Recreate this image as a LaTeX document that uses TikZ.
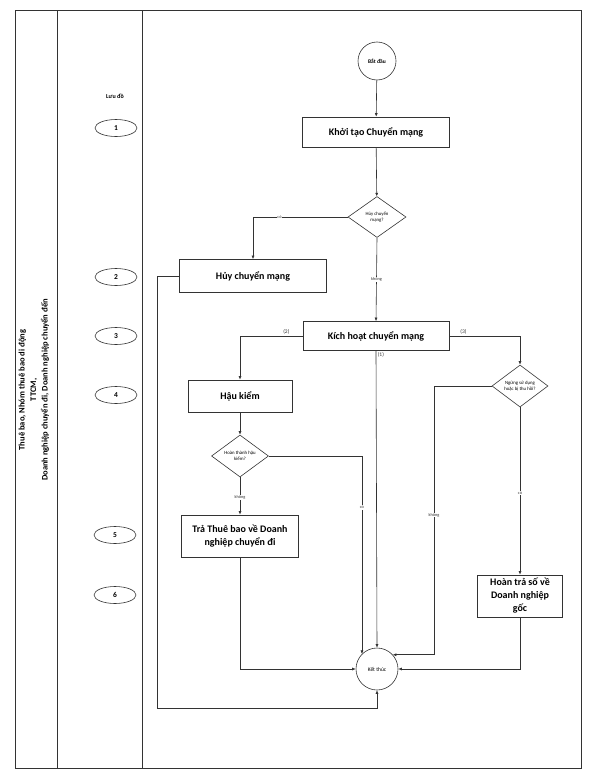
\documentclass[tikz,border=0pt]{standalone}
\usepackage{fontspec}
\setmainfont{Carlito}
\usetikzlibrary{
  arrows.meta,
  positioning,
  shapes.geometric,
  calc
}

\begin{document}
\begin{tikzpicture}[
  x=1pt, y=-1pt,
  line width=0.6pt,
  process/.style={
    rectangle, draw=black!80, line width=0.7pt, inner sep=1pt,
    align=center, font=\fontsize{10}{13}\selectfont\bfseries
  },
  decision/.style={
    diamond, draw=black!80, aspect=1.4, inner sep=0pt,
    minimum width=58pt, minimum height=41pt, align=center,
    font=\fontsize{4.8}{5.8}\selectfont
  },
  terminal/.style={
    circle, draw=black!80, inner sep=0pt, align=center
  },
  marker/.style={
    ellipse, draw=black!80, inner sep=0pt,
    minimum width=42pt, minimum height=17pt,
    font=\fontsize{7.5}{8}\selectfont\bfseries
  },
  flow/.style={-{Latex[length=3.5pt,width=3pt]}, black!80},
  tag/.style={font=\fontsize{4.3}{5}\selectfont, fill=white, inner sep=0.6pt},
  branch/.style={font=\fontsize{5.5}{6}\selectfont, inner sep=1.5pt},
]
\useasboundingbox (0,0) rectangle (589,779);

% Swimlane frame
\draw[black!80] (15,10) rectangle (581,768);
\draw[black!80] (57,10) -- (57,768);
\draw[black!80] (142,10) -- (142,768);

\node[rotate=90, align=center, font=\fontsize{8.5}{11.5}\selectfont\bfseries] (actors) at (34,390)
  {Thuê bao, Nhóm thuê bao di động\\TTCM,\\Doanh nghiệp chuyển đi, Doanh nghiệp chuyển đến};

% Step markers
\node[font=\fontsize{6}{7}\selectfont\bfseries] (chart) at (115,96) {Lưu đồ};
\node[marker] (m1) at (116,128) {1};
\node[marker] (m2) at (116,277) {2};
\node[marker] (m3) at (116,336) {3};
\node[marker] (m4) at (116,395) {4};
\node[marker] (m5) at (115,535) {5};
\node[marker] (m6) at (115,595) {6};

% Flowchart nodes
\node[terminal, minimum size=38pt, font=\fontsize{5.5}{6}\selectfont\bfseries] (start) at (377,61) {Bắt đầu};
\node[process, minimum width=147pt, minimum height=30pt] (init) at (376,132) {Khởi tạo Chuyển mạng};
\node[decision] (qcancel) at (377,217) {Hủy chuyển\\mạng?};
\node[process, minimum width=147pt, minimum height=33pt] (cancel) at (253,276) {Hủy chuyển mạng};
\node[process, minimum width=146pt, minimum height=29pt] (activate) at (376,336) {Kích hoạt chuyển mạng};
\node[process, minimum width=104pt, minimum height=32pt] (audit) at (240,396) {Hậu kiểm};
\node[decision, minimum width=57pt, minimum height=42pt] (qaudit) at (240,456) {Hoàn thành hậu\\kiểm?};
\node[process, minimum width=117pt, minimum height=42pt] (giveback) at (240,536)
  {Trả Thuê bao về Doanh\\nghiệp chuyển đi};
\node[decision, minimum width=56pt, minimum height=42pt] (qstop) at (520,386) {Ngừng sử dụng\\hoặc bị thu hồi?};
\node[process, minimum width=85pt, minimum height=42pt, inner sep=0pt] (refund) at (520,596)
  {Hoàn trả số về\\Doanh nghiệp\\gốc};
\node[terminal, minimum size=42pt, font=\fontsize{5.5}{6}\selectfont] (finish) at (377,669) {Kết thúc};

% Free bends
\coordinate (cancelbend) at (157,708);
\coordinate (stopbend) at (434,0);

% Connectors
\draw[flow] (start) -- (init);
\draw[flow] (init) -- (qcancel);
\draw[flow] (qcancel.west) -| node[tag, pos=0.36] {có} (cancel.north);
\draw[flow] (qcancel.south) -- node[tag, pos=0.5] {không} (activate.north);
\draw[flow] (activate.west) -| node[branch, pos=0.13, above] {(2)} (audit.north);
\draw[flow] (activate.east) -| node[branch, pos=0.1, above] {(3)} (qstop.north);
\draw[flow] (activate.south) -- node[branch, pos=0, below right] {(1)} (finish.north);
\draw[flow] (audit) -- (qaudit);
\draw[flow] (qaudit.south) -- node[tag, pos=0.53] {không} (giveback.north);
\draw[flow] (qaudit.east) -| node[tag, pos=0.63] {có} (finish.north west);
\draw[flow] (qstop.south) -- node[tag, pos=0.51] {có} (refund.north);
\draw[flow] (qstop.west) -| node[tag, pos=0.74] {không} (stopbend |- finish.42) -- (finish.42);
\draw[flow] (giveback.south) |- (finish.west);
\draw[flow] (refund.south) |- (finish.east);
\draw[flow] (cancel.west) -| (cancelbend) -| (finish.south);

\end{tikzpicture}
\end{document}
